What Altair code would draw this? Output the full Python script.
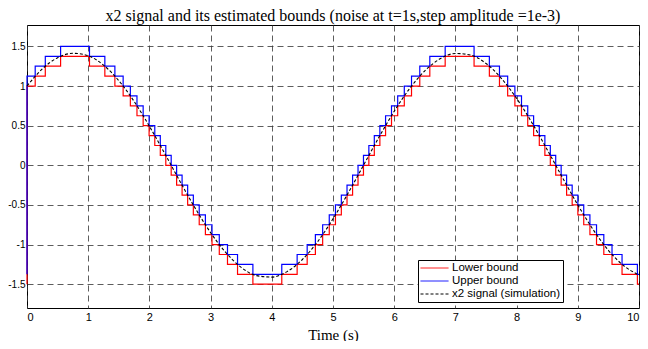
import altair as alt
import pandas as pd

# ---- data ----
series_names = ["Lower bound", "Upper bound", "x2 signal (simulation)"]

t_signal = [0, 0.25, 0.5, 0.75, 1.0, 1.25, 1.5, 1.75, 2.0, 2.25, 2.5, 2.75, 3.0, 3.25,
            3.5, 3.75, 4.0, 4.25, 4.5, 4.75, 5.0, 5.25, 5.5, 5.75, 6.0, 6.25, 6.5, 6.75,
            7.0, 7.25, 7.5, 7.75, 8.0, 8.25, 8.5, 8.75, 9.0, 9.25, 9.5, 9.75, 10.0]
x2_signal = [1.000, 1.216, 1.357, 1.413, 1.382, 1.264, 1.068, 0.806, 0.493, 0.150,
             -0.203, -0.543, -0.849, -1.102, -1.287, -1.392, -1.410, -1.341, -1.188,
             -0.962, -0.675, -0.347, 0.003, 0.353, 0.681, 0.966, 1.192, 1.343, 1.411,
             1.391, 1.285, 1.098, 0.844, 0.538, 0.197, -0.156, -0.499, -0.810, -1.072,
             -1.267, -1.383]

t_steps = [0, 0, 0.134, 0.299, 0.549,
           1.021, 1.272, 1.436, 1.571, 1.689, 1.797, 1.898, 1.995, 2.088, 2.178, 2.268,
           2.356, 2.445, 2.534, 2.625, 2.718, 2.814, 2.915, 3.023, 3.142, 3.276, 3.440, 3.691,
           4.163, 4.414, 4.578, 4.712, 4.831, 4.939, 5.040, 5.136, 5.229, 5.320, 5.409,
           5.498, 5.586, 5.675, 5.766, 5.859, 5.956, 6.057, 6.165, 6.283, 6.418, 6.582, 6.833,
           7.305, 7.555, 7.720, 7.854, 7.972, 8.080, 8.182, 8.278, 8.371, 8.462, 8.551,
           8.639, 8.728, 8.817, 8.908, 9.001, 9.097, 9.198, 9.306, 9.425, 9.559, 9.723, 9.974,
           10.0]
lower_bound = [-1.5, 1.0, 1.125, 1.25, 1.375,
               1.25, 1.125, 1.0, 0.875, 0.75, 0.625, 0.5, 0.375, 0.25, 0.125, 0.0,
               -0.125, -0.25, -0.375, -0.5, -0.625, -0.75, -0.875, -1.0, -1.125, -1.25, -1.375, -1.5,
               -1.375, -1.25, -1.125, -1.0, -0.875, -0.75, -0.625, -0.5, -0.375, -0.25, -0.125,
               0.0, 0.125, 0.25, 0.375, 0.5, 0.625, 0.75, 0.875, 1.0, 1.125, 1.25, 1.375,
               1.25, 1.125, 1.0, 0.875, 0.75, 0.625, 0.5, 0.375, 0.25, 0.125, 0.0,
               -0.125, -0.25, -0.375, -0.5, -0.625, -0.75, -0.875, -1.0, -1.125, -1.25, -1.375, -1.5,
               -1.5]
upper_bound = [-1.375, 1.125, 1.25, 1.375, 1.5,
               1.375, 1.25, 1.125, 1.0, 0.875, 0.75, 0.625, 0.5, 0.375, 0.25, 0.125,
               0.0, -0.125, -0.25, -0.375, -0.5, -0.625, -0.75, -0.875, -1.0, -1.125, -1.25, -1.375,
               -1.25, -1.125, -1.0, -0.875, -0.75, -0.625, -0.5, -0.375, -0.25, -0.125, 0.0,
               0.125, 0.25, 0.375, 0.5, 0.625, 0.75, 0.875, 1.0, 1.125, 1.25, 1.375, 1.5,
               1.375, 1.25, 1.125, 1.0, 0.875, 0.75, 0.625, 0.5, 0.375, 0.25, 0.125,
               0.0, -0.125, -0.25, -0.375, -0.5, -0.625, -0.75, -0.875, -1.0, -1.125, -1.25, -1.375,
               -1.375]

x_ticks = [0, 1, 2, 3, 4, 5, 6, 7, 8, 9, 10]
y_ticks = [-1.5, -1, -0.5, 0, 0.5, 1, 1.5]
x_domain = [0, 10]
y_domain = [-1.8, 1.77]

# ---- tables ----
lower_df = pd.DataFrame({"t": t_steps, "v": lower_bound, "series": series_names[0],
                         "idx": list(range(len(t_steps)))})
upper_df = pd.DataFrame({"t": t_steps, "v": upper_bound, "series": series_names[1],
                         "idx": list(range(len(t_steps)))})
sig_df = pd.DataFrame({"t": t_signal, "v": x2_signal, "series": series_names[2],
                       "idx": list(range(len(t_signal)))})

legend = alt.Legend(
    title=None, orient="none", legendX=391, legendY=235, direction="vertical",
    symbolType="stroke", symbolSize=784, symbolStrokeWidth=1, clipHeight=12,
    labelFont="Liberation Sans", labelFontSize=11.5, labelColor="black",
    fillColor="white", strokeColor="black", padding=2, rowPadding=1,
    labelOffset=3, cornerRadius=0,
)

x_enc = alt.X("t:Q", scale=alt.Scale(domain=x_domain, nice=False, zero=False),
              axis=alt.Axis(values=x_ticks, title="Time (s)", format="d"))
y_enc = alt.Y("v:Q", scale=alt.Scale(domain=y_domain, nice=False, zero=False),
              axis=alt.Axis(values=y_ticks, title=None,
                            labelExpr="toString(datum.value)"))
color_enc = alt.Color("series:N", scale=alt.Scale(domain=series_names,
                      range=["#ff0000", "#0000ff", "#000000"]), legend=legend)
dash_enc = alt.StrokeDash("series:N", scale=alt.Scale(domain=series_names,
                          range=[[1, 0], [1, 0], [3, 2]]), legend=legend)


def layer(df, interp, width):
    return alt.Chart(df).mark_line(interpolate=interp, strokeWidth=width).encode(
        x=x_enc, y=y_enc, color=color_enc, strokeDash=dash_enc,
        order=alt.Order("idx:Q"),
    )


chart = alt.layer(
    layer(lower_df, "step-after", 1.2),
    layer(upper_df, "step-after", 1.2),
    layer(sig_df, "monotone", 1.1),
).properties(
    width=612, height=283,
    title=alt.TitleParams(
        "x2 signal and its estimated bounds (noise at t=1s,step amplitude =1e-3)",
        font="Liberation Serif", fontSize=16, fontWeight="normal", color="black",
        anchor="middle", offset=1,
    ),
    autosize=alt.AutoSizeParams(type="none"),
    padding={"left": 19, "top": 17, "right": 1, "bottom": 33},
).configure_view(
    stroke="black", strokeWidth=1,
).configure_axis(
    grid=True, gridColor="#333333", gridDash=[6, 4], gridWidth=0.8, gridOpacity=1,
    ticks=False, domain=False,
    labelFont="Liberation Sans", labelColor="black",
    titleFont="Liberation Serif", titleFontSize=15, titleFontWeight="normal",
    titleColor="black",
).configure_axisX(
    labelPadding=3, titlePadding=5, labelFontSize=11,
).configure_axisY(
    labelPadding=2, labelFontSize=10,
)

chart.save("out.html", embed_options={"renderer": "svg", "actions": False})
